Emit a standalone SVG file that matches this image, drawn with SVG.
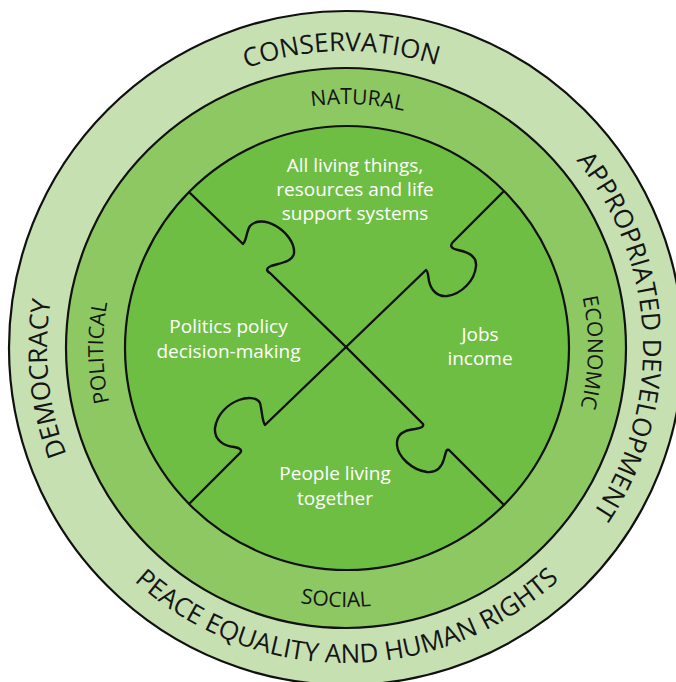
<svg xmlns="http://www.w3.org/2000/svg" width="676" height="682" viewBox="0 0 676 682">
  <style>
    .ring { stroke: #111; stroke-width: 2.2; }
    .outer { fill: #c6e0b2; }
    .middle { fill: #8dc862; }
    .inner { fill: #6fbe44; }
    .piece { fill: none; stroke: #111; stroke-width: 2.4; stroke-linejoin: round; stroke-linecap: round; }
    .big { font-family: "Open Sans", "Noto Sans", sans-serif; font-size: 26px; fill: #151515; }
    .mid { font-family: "Open Sans", "Noto Sans", sans-serif; font-size: 21px; fill: #151515; }
    .lbl { font-family: "Open Sans", "Noto Sans", sans-serif; font-size: 19px; fill: #ffffff; text-anchor: middle; }
  </style>
  <defs>
    <!-- clockwise circles starting at bottom (text reads outward-up) -->
    <path id="cw297" d="M346,645 A297,297 0 0 1 346,51 A297,297 0 0 1 346,645"/>
    <path id="cw299" d="M346,647 A299,299 0 0 1 346,49 A299,299 0 0 1 346,647"/>
    <path id="cw244" d="M346,592 A244,244 0 0 1 346,104 A244,244 0 0 1 346,592"/>
    <path id="cw243" d="M346,591 A243,243 0 0 1 346,105 A243,243 0 0 1 346,591"/>
    <path id="cw242" d="M346,590 A242,242 0 0 1 346,106 A242,242 0 0 1 346,590"/>
    <!-- counter-clockwise circles starting at top (text reads along bottom) -->
    <path id="ccw315" d="M346,33 A315,315 0 0 0 346,663 A315,315 0 0 0 346,33"/>
    <path id="ccw259" d="M346,89 A259,259 0 0 0 346,607 A259,259 0 0 0 346,89"/>
  </defs>

  <g id="outer-ring">
    <circle class="ring outer" cx="346" cy="348" r="337"/>
    <text class="big" text-anchor="middle"><textPath href="#cw297" startOffset="928">CONSERVATION</textPath></text>
    <text class="big" text-anchor="middle"><textPath href="#cw297" startOffset="1385">APPROPRIATED DEVELOPMENT</textPath></text>
    <text class="big" text-anchor="middle"><textPath href="#cw299" startOffset="439">DEMOCRACY</textPath></text>
    <text class="big" text-anchor="middle"><textPath href="#ccw315" startOffset="990">PEACE EQUALITY AND HUMAN RIGHTS</textPath></text>
  </g>

  <g id="middle-ring">
    <circle class="ring middle" cx="346" cy="348" r="280"/>
    <text class="mid" text-anchor="middle"><textPath href="#cw244" startOffset="778">NATURAL</textPath></text>
    <text class="mid" text-anchor="middle"><textPath href="#cw243" startOffset="377">POLITICAL</textPath></text>
    <text class="mid" text-anchor="middle"><textPath href="#cw242" startOffset="1144">ECONOMIC</textPath></text>
    <text class="mid" text-anchor="middle"><textPath href="#ccw259" startOffset="803">SOCIAL</textPath></text>
  </g>

  <g id="inner-circle">
    <circle class="ring inner" cx="347" cy="348" r="222"/>
  </g>

  <g id="puzzle-lines">
    <path class="piece" d="M190,193 L243,244 C247,240 246,232 250,226 C255,220 266,220 276,226 C286,232 295,243 294,253 C293,262 280,263 271,266 C266,268 266,271 270,273 L346,347"/>
    <path class="piece" d="M503,192 L453,242 C449,246 452,249 458,250 C468,252 477,256 476,266 C475,280 462,294 447,296 C437,297 431,290 429,281 C428,275 428,271 426,270 L346,347"/>
    <path class="piece" d="M346,347 L265,425 C262,421 262,410 260,403 C257,397 247,397 239,400 C228,404 217,414 215,428 C214,440 224,446 234,447 C241,448 243,451 239,454 L190,503"/>
    <path class="piece" d="M346,347 L423,424 C424,427 421,428 415,429 C405,430 396,434 397,445 C398,457 412,470 427,472 C437,473 442,466 444,459 C446,452 446,449 449,450 L504,505"/>
  </g>

  <g id="piece-natural">
    <text class="lbl" x="355" y="172">All living things,</text>
    <text class="lbl" x="355" y="196">resources and life</text>
    <text class="lbl" x="355" y="220">support systems</text>
  </g>
  <g id="piece-political">
    <text class="lbl" x="228.5" y="333">Politics policy</text>
    <text class="lbl" x="228.5" y="358">decision-making</text>
  </g>
  <g id="piece-economic">
    <text class="lbl" x="480" y="341">Jobs</text>
    <text class="lbl" x="480" y="365">income</text>
  </g>
  <g id="piece-social">
    <text class="lbl" x="335" y="480">People living</text>
    <text class="lbl" x="335" y="505">together</text>
  </g>
</svg>
